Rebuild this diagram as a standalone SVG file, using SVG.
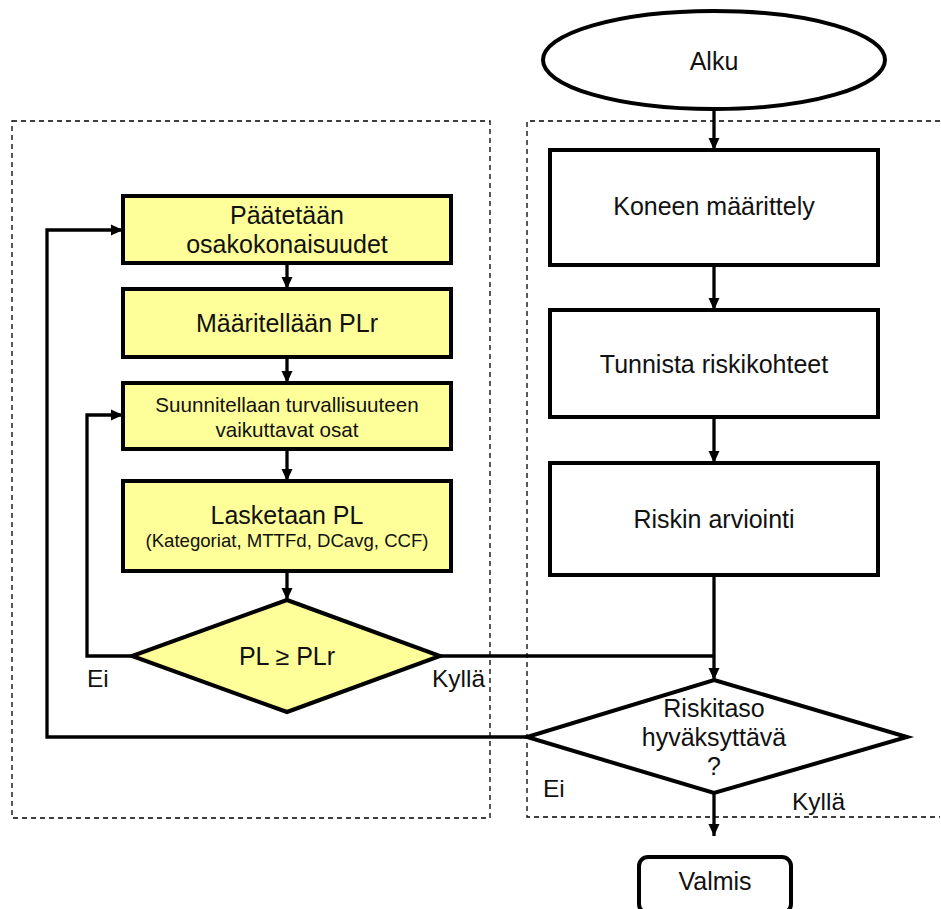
<svg xmlns="http://www.w3.org/2000/svg" width="941" height="909" viewBox="0 0 941 909">
<defs>
<marker id="ah" markerWidth="12" markerHeight="12" viewBox="0 0 12 12" refX="12" refY="6" orient="auto" markerUnits="userSpaceOnUse">
<path d="M0,0.5 L12,6 L0,11.5 Z" fill="#000"/>
</marker>
<style>
.t{font-family:"Liberation Sans",Arial,sans-serif;fill:#111;text-anchor:middle}
.lbl{font-family:"Liberation Sans",Arial,sans-serif;fill:#111;font-size:24.5px}
.y{fill:#ffff99;stroke:#000;stroke-width:4}
.w{fill:#fff;stroke:#000;stroke-width:4}
.c{fill:none;stroke:#000;stroke-width:3.3}
.d{fill:none;stroke:#000;stroke-width:1.3;stroke-dasharray:5 4}
</style>
</defs>
<rect width="941" height="909" fill="#fff"/>
<g id="groups">
<rect class="d" x="12" y="121" width="478" height="697"/>
<path class="d" d="M940,121 H527 V817 H940"/>
</g>
<g id="connectors">
<line class="c" x1="714" y1="109" x2="714" y2="150" marker-end="url(#ah)"/>
<line class="c" x1="714" y1="265" x2="714" y2="310" marker-end="url(#ah)"/>
<line class="c" x1="714" y1="418" x2="714" y2="463" marker-end="url(#ah)"/>
<line class="c" x1="714" y1="575" x2="714" y2="680" marker-end="url(#ah)"/>
<path class="c" d="M440,656 H714"/>
<line class="c" x1="714" y1="793" x2="714" y2="836" marker-end="url(#ah)"/>
<path class="c" d="M527,737 H47 V230 H123" marker-end="url(#ah)"/>
<path class="c" d="M132,656 H87 V415 H123" marker-end="url(#ah)"/>
<line class="c" x1="287" y1="263" x2="287" y2="289" marker-end="url(#ah)"/>
<line class="c" x1="287" y1="357" x2="287" y2="383" marker-end="url(#ah)"/>
<line class="c" x1="287" y1="449" x2="287" y2="481" marker-end="url(#ah)"/>
<line class="c" x1="287" y1="571" x2="287" y2="600" marker-end="url(#ah)"/>
</g>
<g id="alku">
<ellipse class="w" cx="714" cy="60" rx="171" ry="49"/>
<text class="t" x="714" y="70" font-size="25">Alku</text>
</g>
<g id="koneen">
<rect class="w" x="550" y="150" width="328" height="115"/>
<text class="t" x="714" y="215" font-size="25">Koneen määrittely</text>
</g>
<g id="tunnista">
<rect class="w" x="550" y="310" width="328" height="107"/>
<text class="t" x="714" y="373" font-size="25">Tunnista riskikohteet</text>
</g>
<g id="riskin">
<rect class="w" x="550" y="463" width="328" height="112"/>
<text class="t" x="714" y="528" font-size="25">Riskin arviointi</text>
</g>
<g id="riskitaso">
<polygon class="w" points="714,680 907,737 714,793 527,737"/>
<text class="t" x="714" y="717" font-size="25">Riskitaso</text>
<text class="t" x="714" y="746" font-size="25">hyväksyttävä</text>
<text class="t" x="714" y="775" font-size="25">?</text>
</g>
<g id="valmis">
<rect class="w" x="639" y="857" width="152" height="56" rx="9"/>
<text class="t" x="715" y="890" font-size="25">Valmis</text>
</g>
<g id="paatetaan">
<rect class="y" x="123" y="196" width="328" height="67"/>
<text class="t" x="287" y="224" font-size="25">Päätetään</text>
<text class="t" x="287" y="253" font-size="25">osakokonaisuudet</text>
</g>
<g id="maaritellaan">
<rect class="y" x="123" y="289" width="328" height="68"/>
<text class="t" x="287" y="332" font-size="25">Määritellään PLr</text>
</g>
<g id="suunnitellaan">
<rect class="y" x="123" y="383" width="328" height="66"/>
<text class="t" x="287" y="412" font-size="20.6">Suunnitellaan turvallisuuteen</text>
<text class="t" x="287" y="437" font-size="20.6">vaikuttavat osat</text>
</g>
<g id="lasketaan">
<rect class="y" x="123" y="481" width="328" height="90"/>
<text class="t" x="287" y="524" font-size="25">Lasketaan PL</text>
<text class="t" x="287" y="547" font-size="18.6">(Kategoriat, MTTFd, DCavg, CCF)</text>
</g>
<g id="pl-decision">
<polygon class="y" points="287,600 440,656 287,712 132,656"/>
<text class="t" x="287" y="665" font-size="25">PL ≥ PLr</text>
</g>
<g id="labels">
<text class="lbl" x="87" y="687">Ei</text>
<text class="lbl" x="432" y="687">Kyllä</text>
<text class="lbl" x="543" y="797">Ei</text>
<text class="lbl" x="792" y="810">Kyllä</text>
</g>
</svg>
